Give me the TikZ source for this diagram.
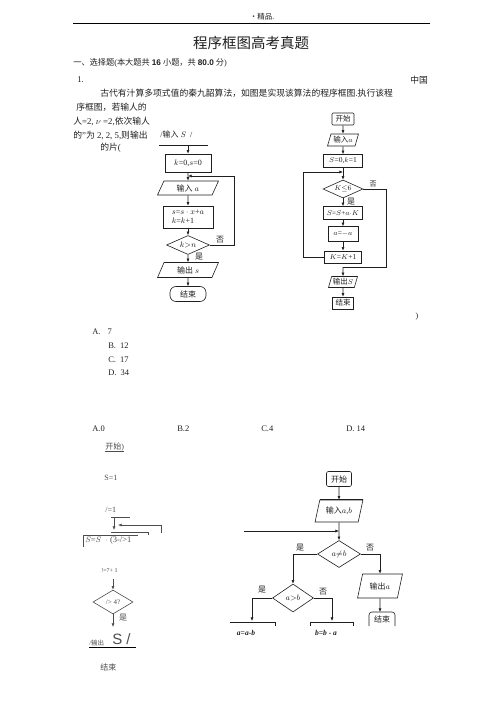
\documentclass[tikz,border=0pt]{standalone}
\usepackage{fontspec}
\setmainfont{Liberation Serif}
\newfontfamily\cjk{Noto Sans CJK SC}
\newfontfamily\arialf{Liberation Sans}
\usepackage{xcolor}
\definecolor{inkgray}{rgb}{0.12,0.12,0.12}
\definecolor{fadegray}{rgb}{0.3,0.3,0.3}
\usetikzlibrary{shapes.geometric}
\usetikzlibrary{arrows.meta}
\tikzset{>={Latex[length=3.6pt,width=3pt]}}
\newcommand{\zh}[1]{{\cjk #1}}
\newcommand{\fs}[1]{\fontsize{#1}{#1}\selectfont}

\begin{document}
\begin{tikzpicture}[x=1pt, y=-1pt, line width=0.6pt, inkgray, font=\fs{8},
  proc/.style={draw, rectangle, inner sep=0pt, font=\fs{7.5}},
  io/.style={draw, trapezium, trapezium left angle=68, trapezium right angle=112,
    trapezium stretches=true, inner sep=0pt, font=\fs{7.5}},
  decide/.style={draw, diamond, aspect=2, inner sep=0pt, font=\fs{7.5}},
  term/.style={draw, rectangle, rounded corners=2pt, inner sep=0pt, font=\fs{7.5}},
  tag/.style={inner sep=0pt, font=\fs{8}},
  txt/.style={anchor=west, inner sep=0pt, font=\fs{8.8}}]

  \useasboundingbox (0,0) rectangle (503,711);

  % page head
  \node[tag, font=\fs{7.5}] (head) at (262,17) {\zh{・精品}.};
  \coordinate (ruleL) at (73,23);
  \coordinate (ruleR) at (430,23);
  \draw[black, line width=0.7pt] (ruleL) -- (ruleR);
  \node[inner sep=0pt, font=\fs{14.5}] (title) at (251,43) {\zh{程序框图高考真题}};
  \node[txt, font=\fs{8.2}] (sect) at (73,63)
    {\zh{一、选择题}(\zh{本大题共} {\arialf\bfseries 16} \zh{小题，共} {\arialf\bfseries 80.0} \zh{分})};

  % question 1 text
  \node[txt] (q1) at (77,80) {1.};
  \node[txt] (q1r) at (410,80) {\zh{中国}};
  \node[txt] (l1) at (100,93) {\zh{古代有汁算多项式值的秦九韶算法，如图是实现该算法的程序框图}.\zh{执行该程}};
  \node[txt] (l2) at (76,107) {\zh{序框图，若输人的}};
  \node[txt] (l3) at (73,121) {\zh{人}=2, $\nu$ =2,\zh{依次输人}};
  \node[txt] (l4) at (73,135) {\zh{的}”\zh{为} 2, 2, 5,\zh{则输出}};
  \node[txt] (l5) at (100,148) {\zh{的片}(};

  % chart A
  \node[tag, anchor=west] (hdA) at (160,134) {/\zh{输入} $S$\ \ /};
  \coordinate (ulA1) at (159,145);
  \coordinate (ulA2) at (208,145);
  \coordinate (topA) at (188,145);
  \draw (ulA1) -- (ulA2);
  \node[proc, minimum width=46pt, minimum height=18pt, font=\fs{8}] (initA) at (188,163) {$k$=0,$s$=0};
  \node[io, minimum width=61pt, minimum height=14pt, font=\fs{8}] (inA) at (188,188) {\zh{输入} $a$};
  \node[proc, minimum width=50pt, minimum height=22pt, align=left, font=\fs{8}] (calcA) at (188,217)
    {$s$=$s\cdot x$+$a$\\[1pt]$k$=$k$+1};
  \node[decide, minimum width=43pt, minimum height=19pt, font=\fs{8}] (decA) at (188,245) {$k{>}n$};
  \node[io, minimum width=61pt, minimum height=15pt, font=\fs{8}] (outA) at (188,270) {\zh{输出} $s$};
  \node[term, rounded corners=6pt, minimum width=36pt, minimum height=15pt, font=\fs{8}] (endA) at (188,294) {\zh{结束}};
  \coordinate (backA) at (188,176);
  \coordinate (rA) at (234,176);
  \draw[->] (topA) -- (initA.north);
  \draw[->] (initA.south) -- (inA.north);
  \draw[->] (inA.south) -- (calcA.north);
  \draw[->] (calcA.south) -- (decA.north);
  \draw[->] (decA.south) -- (outA.north);
  \draw[->] (outA.south) -- (endA.north);
  \draw[->] (decA.east) -| (rA) -- (backA);
  \node[tag] (noA) at (220,240) {\zh{否}};
  \node[tag] (yesA) at (199,257) {\zh{是}};

  % chart B
  \node[term, rounded corners=1pt, minimum width=22pt, minimum height=12pt] (startB) at (343,119) {\zh{开始}};
  \node[io, minimum width=31pt, minimum height=12pt] (inB) at (343,140) {\zh{输入}$a$};
  \node[proc, minimum width=39pt, minimum height=13pt] (initB) at (343,161) {$S$=0,$k$=1};
  \node[decide, minimum width=40pt, minimum height=18pt] (decB) at (343,189) {$K{\le}6$};
  \node[proc, minimum width=39pt, minimum height=13pt, font=\fs{7}] (sB) at (343,213) {$S$=$S$+$a{\cdot}K$};
  \node[proc, minimum width=30pt, minimum height=15pt] (aB) at (343,234) {$a$=$-a$};
  \node[proc, minimum width=37pt, minimum height=12pt] (kB) at (343,257) {$K$=$K$+1};
  \node[io, minimum width=29pt, minimum height=11pt] (outB) at (343,282) {\zh{输出}$S$};
  \node[proc, minimum width=21pt, minimum height=12pt] (endB) at (343,303) {\zh{结束}};
  \coordinate (backB) at (343,172);
  \coordinate (lB) at (303,172);
  \coordinate (rB) at (386,267);
  \coordinate (joinB) at (343,267);
  \draw[->] (startB.south) -- (inB.north);
  \draw[->] (inB.south) -- (initB.north);
  \draw[->] (initB.south) -- (decB.north);
  \draw[->] (decB.south) -- (sB.north);
  \draw[->] (sB.south) -- (aB.north);
  \draw[->] (aB.south) -- (kB.north);
  \draw[->] (kB.west) -| (lB) -- (backB);
  \draw (decB.east) -| (rB) -- (joinB);
  \draw[->] (joinB) -- (outB.north);
  \draw[->] (outB.south) -- (endB.north);
  \node[tag, font=\fs{7}] (noB) at (373,184) {\zh{否}};
  \node[tag] (yesB) at (351,202) {\zh{是}};
  \node[tag] (parB) at (417,317) {)};

  % answers of question 1
  \node[txt, font=\fs{8.5}] (optA) at (92,332) {A.\hspace{7pt}7};
  \node[txt, font=\fs{8.5}] (optB) at (108,346) {B.\hspace{4pt}12};
  \node[txt, font=\fs{8.5}] (optC) at (108,360) {C.\hspace{4pt}17};
  \node[txt, font=\fs{8.5}] (optD) at (108,373) {D.\hspace{4pt}34};
  \node[txt, font=\fs{8.5}] (ansA) at (92,429) {A.0};
  \node[txt, font=\fs{8.5}] (ansB) at (177,429) {B.2};
  \node[txt, font=\fs{8.5}] (ansC) at (261,429) {C.4};
  \node[txt, font=\fs{8.5}] (ansD) at (346,429) {D. 14};

  % chart C (broken scan)
  \begin{scope}[fadegray]
    \node[tag, anchor=west] (startC) at (105,447) {\zh{开始})};
    \draw (startC.south west) -- (startC.south east);
    \node[tag, anchor=west] (sC) at (104,478) {S=1};
    \node[tag, anchor=west] (iC) at (105,510) {/=1};
    \coordinate (ulC1) at (111,517);
    \coordinate (ulC2) at (130,517);
    \coordinate (topC) at (114,517);
    \coordinate (inC) at (114,530);
    \coordinate (backC) at (118,525);
    \coordinate (rC) at (161,533);
    \draw (ulC1) -- (ulC2);
    \draw[->] (topC) -- (inC);
    \draw[->] (rC) |- (backC);
    \coordinate (m1) at (111,532);
    \coordinate (m2) at (148,532);
    \draw (m1) -- (m2) -- ++(0,3);
    \coordinate (b1) at (83,547);
    \coordinate (b2) at (83,535);
    \coordinate (b3) at (138,535);
    \draw (b1) -- (b2) -- (b3);
    \node[tag, anchor=west, font=\fs{8.5}] (calcC) at (85,540) {$S$=$S$\ \ $\cdot$ (3-/>1};
    \node[tag, anchor=west, font=\fs{6}] (stepC) at (101,571) {!=7+ 1};
    \coordinate (topD) at (113,579);
    \node[decide, minimum width=40pt, minimum height=24pt, font=\fs{7}] (decC) at (113,602) {/> 4?};
    \draw[->] (topD) -- (decC.north);
    \coordinate (outC) at (113,627);
    \draw[->] (decC.south) -- (outC);
    \node[tag] (yesC) at (123,618) {\zh{是}};
    \node[tag, anchor=west, font=\fs{6.5}] (outCa) at (89,643) {/\zh{输出}};
    \node[tag, anchor=west, font=\arialf\fs{15}] (outCb) at (112,639) {S /};
    \coordinate (ulC3) at (89,647);
    \coordinate (ulC4) at (136,647);
    \draw[black] (ulC3) -- (ulC4);
    \node[tag, anchor=west] (endC) at (100,667) {\zh{结束}};
  \end{scope}

  % chart D
  \node[term, minimum width=25pt, minimum height=15pt, font=\fs{8}] (startD) at (339,479) {\zh{开始}};
  \node[io, minimum width=48pt, minimum height=22pt, font=\fs{8}] (inD) at (339,511) {\zh{输入}$a$,$b$};
  \draw[line width=1.3pt] (inD.top left corner) -- (inD.top right corner);
  \node[decide, minimum width=43pt, minimum height=27pt, font=\fs{8}] (decD) at (339,554) {$a{\neq}b$};
  \node[io, minimum width=45pt, minimum height=24pt, font=\fs{8}] (outD) at (380,586) {\zh{输出}$a$};
  \node[decide, minimum width=41pt, minimum height=28pt, font=\fs{8}] (decE) at (293,598) {$a{>}b$};
  \node[tag, font=\fs{8}] (endD) at (382,619) {\zh{结束}};
  \draw[rounded corners=3pt] (369,626) -- (369,612) -- (395,612) -- (395,626);
  \coordinate (feedD) at (244,531);
  \coordinate (joinD) at (339,531);
  \draw[->] (startD.south) -- (inD.north);
  \draw[->] (inD.south) -- (decD.north);
  \draw[->] (feedD) -- (joinD);
  \draw[->] (decD.west) -| (decE.north);
  \draw[->] (decD.east) -| (outD.north);
  \coordinate (endDtop) at (380,612);
  \draw[->] (outD.south) -- (endDtop);
  \coordinate (leftE) at (252,621);
  \coordinate (rightE) at (332,621);
  \draw[->] (decE.west) -| (leftE);
  \draw[->] (decE.east) -| (rightE);
  \node[tag] (yesD) at (300,548) {\zh{是}};
  \node[tag] (noD) at (370,548) {\zh{否}};
  \node[tag] (yesE) at (262,590) {\zh{是}};
  \node[tag] (noE) at (323,592) {\zh{否}};
  \coordinate (bx1) at (230,622);
  \coordinate (bx2) at (275,622);
  \coordinate (bx3) at (310,622);
  \coordinate (bx4) at (353,622);
  \draw (bx1) -- (bx2) -- ++(0,4);
  \draw (bx3) ++(0,4) -- (bx3) -- (bx4) -- ++(0,4);
  \node[tag, font=\fs{7.5}\bfseries\itshape] (subA) at (246,633) {a=a-b};
  \node[tag, font=\fs{7.5}\bfseries\itshape] (subB) at (326,633) {b=b - a};

\end{tikzpicture}
\end{document}
